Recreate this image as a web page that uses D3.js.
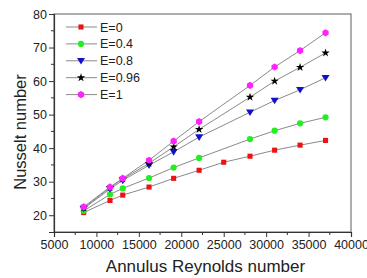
<!DOCTYPE html>
<html>
<head>
<meta charset="utf-8">
<script src="https://cdn.jsdelivr.net/npm/d3@7"></script>
<style>
  body { margin: 0; background: #fff; }
  svg text { font-family: "Liberation Sans", Arial, sans-serif; fill: #222; }
</style>
</head>
<body>
<div id="chart"></div>
<script>
// Reynolds numbers (x) for each series
var reAll = [8500, 11600, 13100, 16200, 19100, 22100, 25000, 28100, 31000, 34000, 37000]
var reNo25 = [8500, 11600, 13100, 16200, 19100, 22100, 28100, 31000, 34000, 37000]

var nuE0 = [20.8, 24.4, 26.0, 28.4, 31.0, 33.4, 35.8, 37.6, 39.4, 40.9, 42.3]
var nuE04 = [21.3, 26.2, 28.0, 31.1, 34.2, 37.1, 42.7, 45.2, 47.4, 49.2]
var nuE08 = [22.0, 27.8, 30.4, 34.9, 38.9, 43.3, 50.7, 54.2, 57.4, 61.0]
var nuE096 = [22.2, 28.2, 30.8, 35.5, 40.4, 45.6, 55.2, 60.0, 64.1, 68.4]
var nuE1 = [22.5, 28.4, 31.0, 36.4, 42.1, 47.9, 58.7, 64.2, 69.1, 74.4]

var seriesNames = ["E=0", "E=0.4", "E=0.8", "E=0.96", "E=1"]
var xTicks = [5000, 10000, 15000, 20000, 25000, 30000, 35000, 40000]
var yTicks = [20, 30, 40, 50, 60, 70, 80]

var W = 367, H = 278
var margin = { top: 14, left: 54, right: 16, bottom: 46 }

var svg = d3.select("#chart").append("svg")
  .attr("width", W)
  .attr("height", H)

var x = d3.scaleLinear().domain([5000, 40000]).range([margin.left, W - margin.right])
var y = d3.scaleLinear().domain([15, 80]).range([H - margin.bottom, margin.top])

// hexagon marker for E=1
function hexagon(r) {
  var pts = d3.range(6).map(function(i) {
    var a = Math.PI / 3 * i
    return [r * Math.sin(a), -r * Math.cos(a)]
  })
  return "M" + pts.join("L") + "Z"
}

var series = [
  { name: seriesNames[0], xs: reAll, ys: nuE0, color: "#ee1111", shape: d3.symbolSquare, size: 26 },
  { name: seriesNames[1], xs: reNo25, ys: nuE04, color: "#22ee22", shape: d3.symbolCircle, size: 30 },
  { name: seriesNames[2], xs: reNo25, ys: nuE08, color: "#1111cc", shape: "tri", size: 4 },
  { name: seriesNames[3], xs: reNo25, ys: nuE096, color: "#000000", shape: d3.symbolStar, size: 22 },
  { name: seriesNames[4], xs: reNo25, ys: nuE1, color: "#ff22ff", shape: "hex", size: 3.6 }
]

function markerPath(s) {
  if (s.shape == "tri") {
    var r = s.size
    return "M" + (-r) + "," + (-r * 0.7) + "L" + r + "," + (-r * 0.7) + "L0," + (r * 0.95) + "Z"
  }
  if (s.shape == "hex") return hexagon(s.size)
  return d3.symbol().type(s.shape).size(s.size)()
}

// frame (top/right)
svg.append("rect")
  .attr("x", x(5000)).attr("y", y(80))
  .attr("width", x(40000) - x(5000))
  .attr("height", y(15) - y(80))
  .attr("fill", "none")
  .attr("stroke", "#777")
  .attr("stroke-width", 1.2)

// x axis
var xAxis = svg.append("g")
  .attr("transform", "translate(0," + y(15) + ")")
  .call(d3.axisBottom(x).tickValues(xTicks).tickSize(5).tickPadding(3).tickFormat(d3.format("d")))
xAxis.selectAll(".tick line").attr("stroke", "#333")
xAxis.select(".domain").attr("stroke", "#333").attr("stroke-width", 1.2)
xAxis.selectAll("text").attr("font-size", "12.5px").style("fill", "#222")
xAxis.selectAll(".minor").data(d3.range(7500, 40000, 5000)).enter().append("line")
  .attr("class", "minor")
  .attr("x1", function(d) { return x(d) }).attr("x2", function(d) { return x(d) })
  .attr("y1", 0).attr("y2", 3)
  .attr("stroke", "#333")

// y axis
var yAxis = svg.append("g")
  .attr("transform", "translate(" + x(5000) + ",0)")
  .call(d3.axisLeft(y).tickValues(yTicks).tickSize(5).tickPadding(2))
yAxis.selectAll(".tick line").attr("stroke", "#333")
yAxis.select(".domain").attr("stroke", "#333").attr("stroke-width", 1.2)
yAxis.selectAll("text").attr("font-size", "12.5px").style("fill", "#222")
yAxis.selectAll(".minor").data(d3.range(25, 80, 10)).enter().append("line")
  .attr("class", "minor")
  .attr("y1", function(d) { return y(d) }).attr("y2", function(d) { return y(d) })
  .attr("x1", 0).attr("x2", -3)
  .attr("stroke", "#333")

// lines + markers
var line = d3.line()
series.forEach(function(s) {
  var pts = s.xs.map(function(v, i) { return [x(v), y(s.ys[i])] })
  svg.append("path")
    .attr("d", line(pts))
    .attr("fill", "none")
    .attr("stroke", "#8a8a8a")
    .attr("stroke-width", 1)
})
series.forEach(function(s) {
  var pts = s.xs.map(function(v, i) { return [x(v), y(s.ys[i])] })
  svg.selectAll(null).data(pts).enter().append("path")
    .attr("d", markerPath(s))
    .attr("transform", function(d) { return "translate(" + d[0] + "," + d[1] + ")" })
    .attr("fill", s.color)
})

// legend
var leg = svg.append("g")
series.forEach(function(s, i) {
  var ly = 27 + i * 16.9
  leg.append("line")
    .attr("x1", 66).attr("x2", 97)
    .attr("y1", ly).attr("y2", ly)
    .attr("stroke", "#8a8a8a")
  leg.append("path")
    .attr("d", markerPath(s))
    .attr("transform", "translate(81," + ly + ")")
    .attr("fill", s.color)
  leg.append("text")
    .attr("x", 100).attr("y", ly + 4.5)
    .attr("font-size", "12.5px")
    .text(s.name)
})

// axis titles
svg.append("text")
  .attr("x", (x(5000) + x(40000)) / 2 + 3)
  .attr("y", 272)
  .attr("text-anchor", "middle")
  .attr("font-size", "17px")
  .text("Annulus Reynolds number")

svg.append("text")
  .attr("transform", "translate(26,132) rotate(-90)")
  .attr("text-anchor", "middle")
  .attr("font-size", "16.5px")
  .text("Nusselt number")
</script>
</body>
</html>
